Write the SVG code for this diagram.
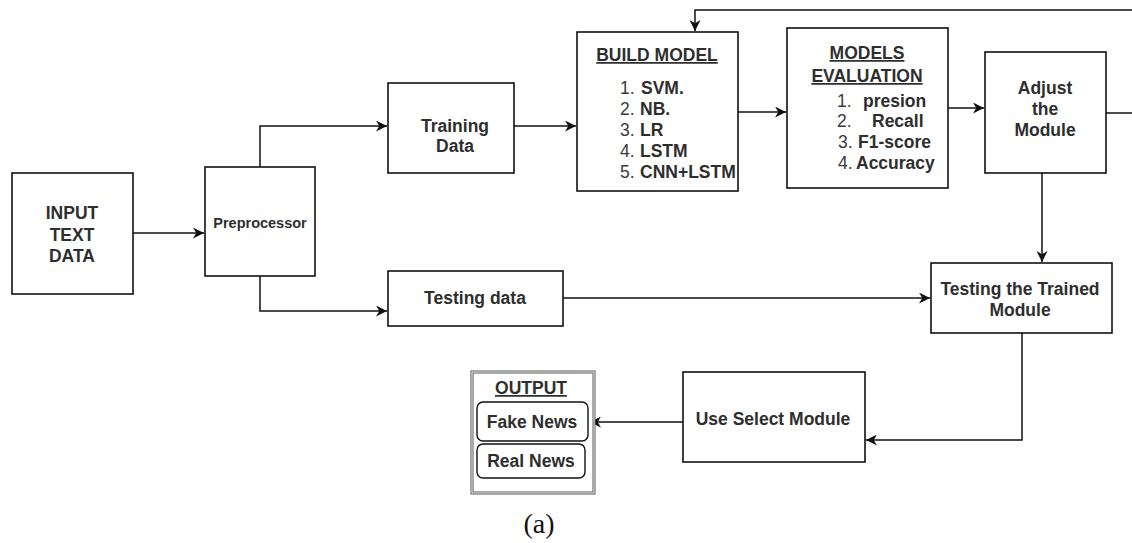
<svg xmlns="http://www.w3.org/2000/svg" width="1132" height="543" viewBox="0 0 1132 543">
<defs>
<marker id="ah" viewBox="0 0 10 10" refX="10" refY="5" markerWidth="11" markerHeight="11" markerUnits="userSpaceOnUse" orient="auto">
<path d="M0,0 L10,5 L0,10 L3,5 Z" fill="#111"/>
</marker>
<style>
.box{fill:#fff;stroke:#111;stroke-width:1.6}
.ln{fill:none;stroke:#111;stroke-width:1.5}
.t{font-family:"Liberation Sans",Arial,sans-serif;font-size:17.5px;font-weight:bold;fill:#2e2e2e;text-anchor:middle}
.s{font-family:"Liberation Sans",Arial,sans-serif;font-size:17.5px;fill:#3a3a3a}
.b{font-weight:bold;fill:#2e2e2e}
.u{text-decoration:underline}
</style>
</defs>
<rect width="1132" height="543" fill="#fff"/>
<g id="connectors">
<line class="ln" x1="133" y1="233" x2="204" y2="233" marker-end="url(#ah)"/>
<polyline class="ln" points="260,167 260,126 387,126" marker-end="url(#ah)"/>
<polyline class="ln" points="260,276 260,311 387,311" marker-end="url(#ah)"/>
<line class="ln" x1="514" y1="126" x2="576" y2="126" marker-end="url(#ah)"/>
<line class="ln" x1="738" y1="112" x2="786" y2="112" marker-end="url(#ah)"/>
<line class="ln" x1="948" y1="108" x2="984" y2="108" marker-end="url(#ah)"/>
<polyline class="ln" points="1106,113 1132,113"/>
<polyline class="ln" points="1132,10 695,10 695,31" marker-end="url(#ah)"/>
<line class="ln" x1="1042" y1="173" x2="1042" y2="262" marker-end="url(#ah)"/>
<line class="ln" x1="563" y1="298" x2="930" y2="298" marker-end="url(#ah)"/>
<polyline class="ln" points="1022,333 1022,440 866,440" marker-end="url(#ah)"/>
<line class="ln" x1="683" y1="422" x2="590" y2="422" marker-end="url(#ah)"/>
</g>
<g id="input">
<rect class="box" x="12" y="173" width="121" height="121"/>
<text class="t" x="72" y="219">INPUT</text>
<text class="t" x="72" y="241">TEXT</text>
<text class="t" x="72" y="262">DATA</text>
</g>
<g id="preprocessor">
<rect class="box" x="205" y="167" width="110" height="109"/>
<text class="t" x="260" y="228" style="font-size:14.5px">Preprocessor</text>
</g>
<g id="training">
<rect class="box" x="388" y="83" width="126" height="90"/>
<text class="t" x="455" y="132">Training</text>
<text class="t" x="455" y="152">Data</text>
</g>
<g id="testing">
<rect class="box" x="388" y="271" width="175" height="55"/>
<text class="t" x="475" y="304">Testing data</text>
</g>
<g id="build">
<rect class="box" x="577" y="32" width="161" height="159"/>
<text class="t u" x="657" y="61">BUILD MODEL</text>
<text class="s" x="620" y="94">1. <tspan class="b" x="641">SVM.</tspan></text>
<text class="s" x="620" y="115">2. <tspan class="b" x="640">NB.</tspan></text>
<text class="s" x="620" y="136">3. <tspan class="b" x="640">LR</tspan></text>
<text class="s" x="620" y="157">4. <tspan class="b" x="640">LSTM</tspan></text>
<text class="s" x="620" y="178">5. <tspan class="b" x="640">CNN+LSTM</tspan></text>
</g>
<g id="evaluation">
<rect class="box" x="787" y="28" width="161" height="160"/>
<text class="t u" x="867" y="59">MODELS</text>
<text class="t u" x="867" y="82">EVALUATION</text>
<text class="s" x="837" y="107">1. <tspan class="b" x="863">presion</tspan></text>
<text class="s" x="837" y="127">2. <tspan class="b" x="872">Recall</tspan></text>
<text class="s" x="838" y="148">3. <tspan class="b" x="858">F1-score</tspan></text>
<text class="s" x="838" y="169">4. <tspan class="b" x="856">Accuracy</tspan></text>
</g>
<g id="adjust">
<rect class="box" x="985" y="52" width="121" height="121"/>
<text class="t" x="1045" y="94">Adjust</text>
<text class="t" x="1045" y="115">the</text>
<text class="t" x="1045" y="136">Module</text>
</g>
<g id="testing-trained">
<rect class="box" x="931" y="263" width="181" height="70"/>
<text class="t" x="1020" y="295">Testing the Trained</text>
<text class="t" x="1020" y="316">Module</text>
</g>
<g id="use-select">
<rect class="box" x="683" y="372" width="182" height="90"/>
<text class="t" x="773" y="425">Use Select Module</text>
</g>
<g id="output">
<rect x="472" y="372" width="122" height="121" fill="#fff" stroke="#555" stroke-width="3"/>
<rect x="472" y="372" width="122" height="121" fill="none" stroke="#fff" stroke-width="1"/>
<text class="t u" x="531" y="394">OUTPUT</text>
<rect x="477" y="402" width="111" height="39" rx="6" fill="#fff" stroke="#111" stroke-width="1.4"/>
<text class="t" x="532" y="428">Fake News</text>
<rect x="477" y="444" width="108" height="34" rx="6" fill="#fff" stroke="#111" stroke-width="1.4"/>
<text class="t" x="531" y="467">Real News</text>
</g>
<text x="539" y="533" style="font-family:'Liberation Serif','Times New Roman',serif;font-size:28px;fill:#111;text-anchor:middle">(a)</text>
</svg>
